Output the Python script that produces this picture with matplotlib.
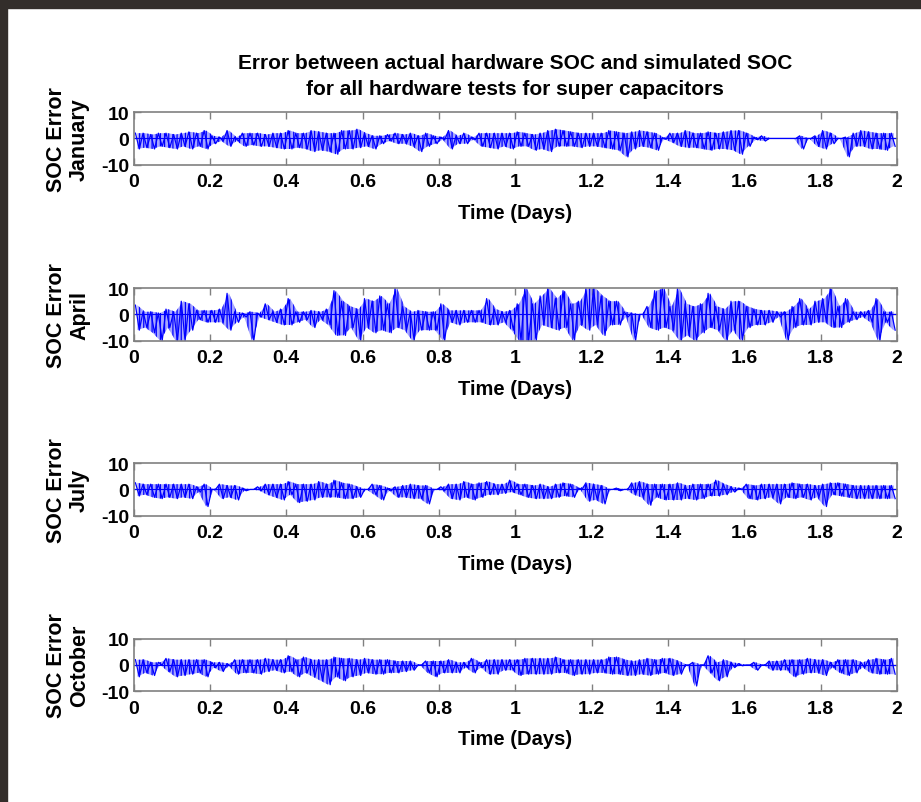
import numpy as np
import matplotlib
matplotlib.use("Agg")
import matplotlib.pyplot as plt
from matplotlib.patches import Rectangle

plt.rcParams["font.family"] = ["Liberation Sans", "DejaVu Sans"]
plt.rcParams["font.weight"] = "bold"
plt.rcParams["axes.unicode_minus"] = False
plt.rcParams["hatch.linewidth"] = 0.9
plt.rcParams["hatch.color"] = "blue"

# upper / lower excursion of the error in each 0.02 day bin
jan_hi = [2, 2, 1.5, 2, 2, 1.5, 2, 2.5, 2, 3,
          1, 0.5, 3, 0.5, 2, 2, 2, 1.5, 2, 2,
          3, 2, 2, 3, 2.5, 2, 2, 3, 3, 3.5,
          2, 1, 1, 1.5, 2, 1.5, 2, 1, 2, 1,
          0.5, 3, 1, 2, 0.5, 2, 2, 2, 2, 2,
          2.5, 2, 1.5, 2, 3, 3.5, 3, 2.5, 2, 2,
          2, 2, 3, 2.5, 2, 2.5, 3, 2.5, 2, 0.3,
          2, 2, 3, 2, 2, 2.5, 2, 2.5, 3, 3,
          2, 0.5, 1, 0, 0, 0, 0, 1, 0, 1,
          3, 2, 0, 0.5, 2, 3, 2.5, 2, 2, 2]
jan_lo = [-4, -3.5, -4, -3, -3.5, -4, -3, -4, -3, -4,
          -2, -1, -3, -1, -3, -2.5, -3, -3, -3.5, -4,
          -4, -3.5, -4, -5, -4.5, -5, -6, -4, -4, -3.5,
          -3, -4, -2, -1, -2, -2, -3, -5, -3, -2,
          -0.5, -4, -2, -2, -0.5, -3, -3.5, -4, -3, -4,
          -3, -3, -4.5, -4, -5, -3, -3, -3, -3.5, -3,
          -3, -3.5, -4, -4.5, -7, -4, -3, -3.5, -4.5, -0.3,
          -1.5, -3, -3.5, -3.5, -4, -4.5, -4, -4, -4.5, -6,
          -3, -0.5, -1, 0, 0, 0, 0, -4, 0, -3,
          -4, -2, 0, -7, -3, -3, -4, -4, -4.5, -3]

apr_hi = [3.5, 1, 1, 0.5, 2, 1, 5, 4, 1.5, 1.5,
          1.5, 2, 8, 1, 0.5, 1, 0.5, 4, 1, 2,
          6, 1, 1, 1.5, 1, 2, 9, 5, 3, 2,
          6, 5, 7, 4, 10, 3, 1, 1.5, 1, 1,
          4, 1.5, 1.5, 1.5, 1.5, 1.5, 6, 2, 1, 1.5,
          4, 10, 4, 7, 10, 6, 9, 4, 5, 10,
          10, 7, 5, 5, 1, 0.5, 0, 3, 9, 10,
          3, 10, 4, 3, 4, 8, 3, 2, 5, 5,
          3, 2, 1.5, 1.5, 1, 1, 3, 6, 2, 5,
          6, 10, 3, 6, 1, 1, 1.5, 6, 1, 1]
apr_lo = [-6, -5, -7, -10, -5, -10, -10, -6, -2, -3,
          -3, -3, -6, -3, -1, -10, -1, -2, -3, -4,
          -4, -3, -2, -5, -2, -4, -8, -8, -5, -10,
          -5, -7, -6, -7, -5, -6, -10, -6, -6, -6,
          -10, -3, -4, -3, -3, -3, -4, -4, -3, -6,
          -10, -10, -10, -4, -5, -6, -5, -10, -4, -6,
          -4, -8, -4, -4, -1, -10, 0, -5, -6, -5,
          -6, -10, -8, -10, -7, -5, -6, -10, -6, -10,
          -5, -4, -4, -3, -1, -10, -5, -4, -4, -3,
          -3, -5, -5, -3, -2, -1, -3, -10, -3, -6]

jul_hi = [2.5, 2, 2, 2, 2, 2, 2, 2, 1, 2,
          0, 2, 1.5, 1.5, 0.5, 0, 1, 2, 2, 2,
          3, 2, 2, 2, 3, 2, 3.5, 2.5, 2, 1,
          0, 2, 1.5, 0.5, 1, 1.5, 2, 1.5, 1.5, 0,
          1, 2, 2, 3, 2, 2.5, 3, 2, 2, 3.5,
          2, 2, 1.5, 2, 1, 2, 2.5, 2, 0.5, 2.5,
          2, 1.5, 0, 0.5, 0, 2.5, 3, 2, 2, 2,
          2, 2.5, 1.5, 2, 2, 2, 3.5, 2, 1, 0.5,
          2, 1.5, 2, 2, 2, 2, 2.5, 2, 2, 1.5,
          2, 2.5, 2.5, 2, 1.5, 1.5, 1.5, 1.5, 1.5, 1.5]
jul_lo = [-2.5, -2, -3, -3.5, -3, -3.5, -3, -3.5, -1, -6.5,
          0, -3.5, -3, -4, -0.5, 0, -0.5, -2, -3, -4,
          -2, -5, -4.5, -4, -3, -3, -3, -3.5, -3.5, -3,
          0, -2, -4, -0.5, -3, -3, -3.5, -3.5, -5.5, 0,
          -0.5, -3.5, -4, -3, -4, -3, -2, -2, -1.5, -1,
          -2, -3, -3.5, -3.5, -3.5, -3, -2.5, -3, 0, -4.5,
          -4, -5.5, 0, -0.5, 0, -2, -3, -6, -3, -4,
          -4, -4, -3.5, -4, -3.5, -2.5, -2.5, -2, -1, 0,
          -3.5, -4, -3.5, -3, -5.5, -3, -3.5, -3, -4, -3,
          -6.5, -2, -2.5, -3, -3.5, -3.5, -3.5, -3.5, -3.5, -3.5]

oct_hi = [2, 2, 1, 1, 2.5, 2, 2, 2, 2, 2,
          1, 1, 0.5, 2, 2, 2, 2, 2.5, 2, 2,
          3.5, 2, 3, 2, 2, 2, 3, 2.5, 2.5, 2,
          2.5, 2, 2, 2, 1.5, 1.5, 1.5, 0, 1.5, 1.5,
          1.5, 2, 1, 1, 2.5, 1, 2, 2, 2, 2,
          2, 2.5, 2.5, 2.5, 2.5, 3, 2, 2, 2, 2,
          2, 2, 3, 3, 2, 1.5, 2, 2.5, 2, 2.5,
          2.5, 1.5, 0, 1, 0, 3.5, 1, 2, 1, 0.5,
          0, 1, 0, 1.5, 1.5, 2, 2, 2, 2.5, 2,
          2, 1, 2, 2, 2, 1, 2, 2.5, 2, 2.5]
oct_lo = [-4.5, -3, -4, 0, -2.5, -4.5, -4, -3.5, -3, -4.5,
          -1, -2.5, -0.5, -3.5, -3, -3, -3.5, -2.5, -2, -3,
          -2.5, -4.5, -3, -4.5, -6, -7.5, -4.5, -6, -4.5, -4,
          -3, -3.5, -3.5, -3, -3, -2.5, -2, 0, -3, -4.5,
          -3, -3, -3, -1, -3, -1, -3.5, -3.5, -2, -2,
          -4, -3.5, -3.5, -3.5, -3.5, -3, -3, -4, -3.5, -3.5,
          -3, -3, -3.5, -3.5, -4, -4, -3.5, -4, -3.5, -3,
          -4, -3.5, 0, -8, 0, -3, -6, -4.5, -1, -0.3,
          0, -2, 0, -2, -2, -2, -4.5, -3.5, -3, -3,
          -4, -1, -3, -4, -3, -1, -3, -3.5, -3.5, -3.5]

months = ["January", "April", "July", "October"]
series = [(jan_hi, jan_lo), (apr_hi, apr_lo), (jul_hi, jul_lo), (oct_hi, oct_lo)]
xticks = [0, 0.2, 0.4, 0.6, 0.8, 1, 1.2, 1.4, 1.6, 1.8, 2]
xticklabels = ["0", "0.2", "0.4", "0.6", "0.8", "1", "1.2", "1.4", "1.6", "1.8", "2"]
yticks = [-10, 0, 10]

fig = plt.figure(figsize=(9.21, 8.03), dpi=100)
fig.patches.append(Rectangle((0, 1 - 9 / 803), 1, 9 / 803, transform=fig.transFigure,
                             color="#332e2b", zorder=0))
fig.patches.append(Rectangle((0, 0), 7 / 921, 1, transform=fig.transFigure,
                             color="#332e2b", zorder=0))

bottoms = [0.7936, 0.5745, 0.3565, 0.1379]
left, width, height = 0.1450, 0.829, 0.0655
grey = "#808080"

for k, (month, (hi, lo)) in enumerate(zip(months, series)):
    ax = fig.add_axes([left, bottoms[k], width, height])
    n = len(hi)
    step = 2.0 / n
    tc = (np.arange(n) + 0.5) * step
    # dense band of vertical strokes between the excursions, plus the trace
    ax.fill_between(tc, lo, hi, facecolor=(0, 0, 1, 0.35), edgecolor="none",
                    hatch="||||", lw=0)
    t = np.empty(2 * n)
    y = np.empty(2 * n)
    t[0::2] = (np.arange(n) + 0.25) * step
    t[1::2] = (np.arange(n) + 0.75) * step
    y[0::2] = hi
    y[1::2] = lo
    ax.plot(t, y, color="blue", lw=0.9)
    ax.axhline(0, color="blue", lw=0.8)
    ax.set_xlim(0, 2)
    ax.set_ylim(-10, 10)
    ax.set_xticks(xticks)
    ax.set_xticklabels(xticklabels)
    ax.set_yticks(yticks)
    ax.tick_params(direction="in", length=5, width=1, color=grey, labelsize=14,
                   top=True, right=True)
    ax.tick_params(axis="x", pad=6)
    ax.tick_params(axis="y", pad=3)
    for s in ax.spines.values():
        s.set_color(grey)
        s.set_linewidth(1.2)
    ax.set_xlabel("Time (Days)", fontsize=14.5, fontweight="bold")
    ax.set_ylabel("SOC Error\n" + month, fontsize=15.5, fontweight="bold",
                  linespacing=1.1)
    ax.yaxis.set_label_coords(-0.057, 0.5)
    ax.xaxis.set_label_coords(0.5, -0.72)
    if k == 0:
        ax.set_title("Error between actual hardware SOC and simulated SOC\n"
                     "for all hardware tests for super capacitors",
                     fontsize=15, fontweight="bold", pad=13, linespacing=1.5)

fig.savefig("out.png", dpi=100)
